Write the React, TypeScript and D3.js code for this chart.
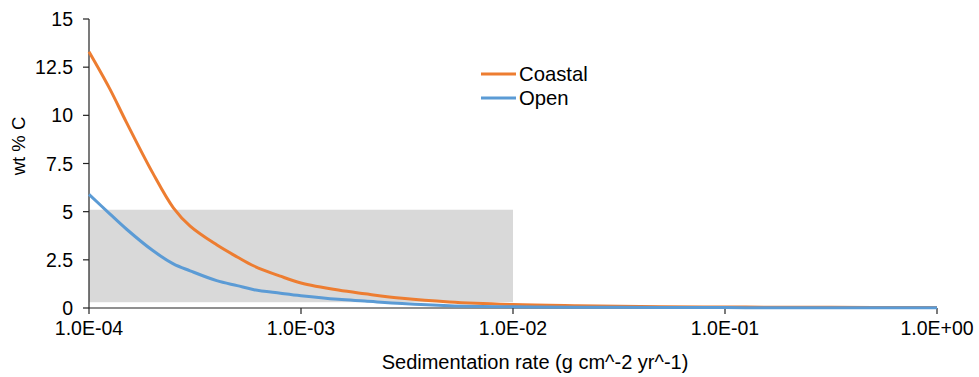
import React from "react";
import * as d3 from "d3";

// sedimentation rate (g cm^-2 yr^-1)
const rates = [
  1e-4, 1.25e-4, 1.5e-4, 2e-4, 2.5e-4, 3e-4, 4e-4, 5e-4, 6e-4, 8e-4, 1e-3,
  1.5e-3, 2e-3, 3e-3, 5e-3, 1e-2, 2e-2, 5e-2, 1e-1, 2e-1, 5e-1, 1,
];
// wt % C
const coastal = [
  13.3, 11.4, 9.65, 7.0, 5.2, 4.25, 3.28, 2.65, 2.18, 1.65, 1.3,
  0.93, 0.74, 0.5, 0.31, 0.18, 0.12, 0.07, 0.05, 0.04, 0.03, 0.02,
];
const open = [
  5.9, 4.9, 4.1, 2.98, 2.29, 1.93, 1.42, 1.16, 0.95, 0.77, 0.64,
  0.45, 0.36, 0.23, 0.12, 0.06, 0.04, 0.03, 0.02, 0.01, 0.01, 0.01,
];
const seriesNames = ["Coastal", "Open"];
const xTicks = [1e-4, 1e-3, 1e-2, 1e-1, 1];
const xTickLabels = ["1.0E-04", "1.0E-03", "1.0E-02", "1.0E-01", "1.0E+00"];
const yTicks = [0, 2.5, 5, 7.5, 10, 12.5, 15];
const yTickLabels = ["0", "2.5", "5", "7.5", "10", "12.5", "15"];
// shaded box
const boxRate = [1e-4, 1e-2];
const boxWt = [0.3, 5.1];

const colors = ["#ED7D31", "#5B9BD5"];
const font = "'Liberation Sans', Arial, Helvetica, sans-serif";

export default function App() {
  const width = 979;
  const height = 377;
  const x = d3.scaleLog().domain([1e-4, 1]).range([89, 937]);
  const y = d3.scaleLinear().domain([0, 15]).range([308, 19]);

  const line = d3
    .line<number>()
    .x((_, i) => x(rates[i]))
    .y((d) => y(d))
    .curve(d3.curveCatmullRom.alpha(0.5));

  const series = [coastal, open];
  const axisColor = "#222";

  return (
    <svg
      width={width}
      height={height}
      style={{ position: "absolute", left: 0, top: 0, fontFamily: font }}
    >
      <rect width={width} height={height} fill="#fff" />
      {/* shaded range */}
      <rect
        x={x(boxRate[0])}
        y={y(boxWt[1])}
        width={x(boxRate[1]) - x(boxRate[0])}
        height={y(boxWt[0]) - y(boxWt[1])}
        fill="#D9D9D9"
      />

      {/* y axis */}
      <line x1={x(1e-4)} x2={x(1e-4)} y1={y(15)} y2={y(0)} stroke={axisColor} strokeWidth={1.2} />
      {yTicks.map((t, i) => (
        <g key={t}>
          <line x1={x(1e-4) - 6} x2={x(1e-4)} y1={y(t)} y2={y(t)} stroke={axisColor} strokeWidth={1.2} />
          <text x={73} y={y(t) + 7} textAnchor="end" fontSize={19.5} fill="#000">
            {yTickLabels[i]}
          </text>
        </g>
      ))}

      {/* x axis */}
      <line x1={x(1e-4)} x2={x(1)} y1={y(0)} y2={y(0)} stroke={axisColor} strokeWidth={1.2} />
      {xTicks.map((t, i) => (
        <g key={t}>
          <line x1={x(t)} x2={x(t)} y1={y(0)} y2={y(0) + 6} stroke={axisColor} strokeWidth={1.2} />
          <text x={x(t)} y={335} textAnchor="middle" fontSize={19.5} fill="#000">
            {xTickLabels[i]}
          </text>
        </g>
      ))}

      {/* series */}
      {series.map((s, i) => (
        <path
          key={seriesNames[i]}
          d={line(s) ?? ""}
          fill="none"
          stroke={colors[i]}
          strokeWidth={3}
          strokeLinejoin="round"
        />
      ))}

      {/* axis titles */}
      <text x={535} y={369} textAnchor="middle" fontSize={20} fill="#000">
        Sedimentation rate (g cm^-2 yr^-1)
      </text>
      <text
        transform={`translate(25, 146) rotate(-90)`}
        textAnchor="middle"
        fontSize={18.5}
        fill="#000"
      >
        wt % C
      </text>

      {/* legend */}
      {seriesNames.map((name, i) => (
        <g key={name} transform={`translate(481, ${74 + i * 24})`}>
          <line x1={0} x2={35} y1={0} y2={0} stroke={colors[i]} strokeWidth={3} />
          <text x={38} y={7} fontSize={20.3} fill="#000">
            {name}
          </text>
        </g>
      ))}
    </svg>
  );
}
